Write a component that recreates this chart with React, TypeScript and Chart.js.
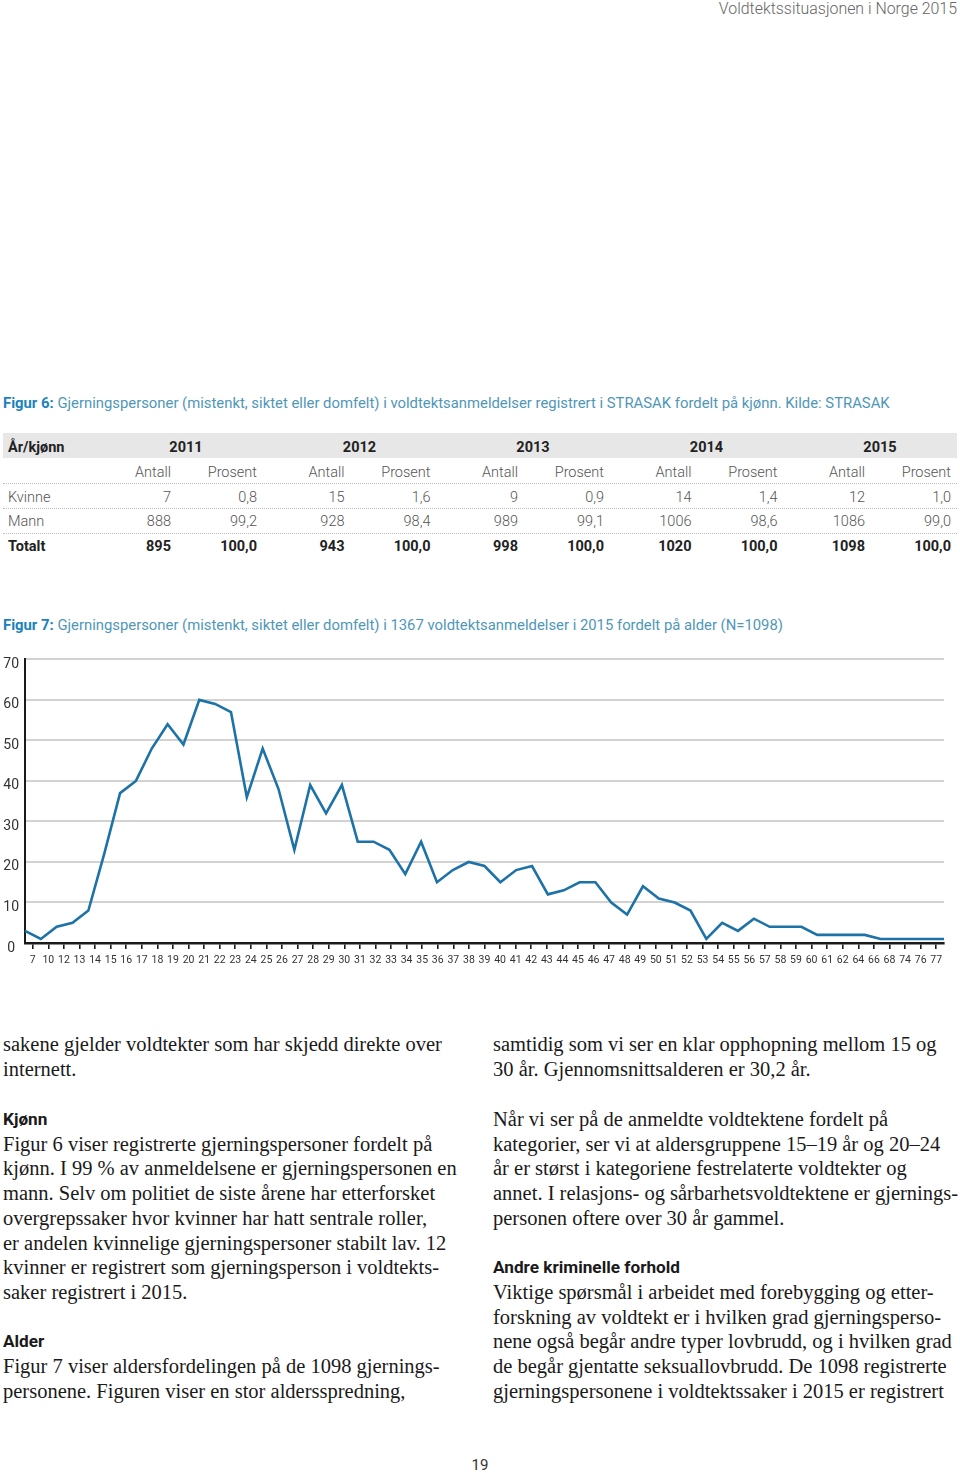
import React, { useEffect, useRef } from "react";
import { Chart, registerables } from "chart.js";

Chart.register(...registerables);

const ageLabels = [
  "7", "10", "12", "13", "14", "15", "16", "17", "18", "19", "20", "21", "22", "23", "24", "25", "26", "27", "28", "29",
  "30", "31", "32", "33", "34", "35", "36", "37", "38", "39", "40", "41", "42", "43", "44", "45", "46", "47", "48", "49",
  "50", "51", "52", "53", "54", "55", "56", "57", "58", "59", "60", "61", "62", "64", "66", "68", "74", "76", "77",
];
const ageCounts = [
  3, 1, 4, 5, 8, 22, 37, 40, 48, 54, 49, 60, 59, 57, 36, 48, 38, 23, 39, 32,
  39, 25, 25, 23, 17, 25, 15, 18, 20, 19, 15, 18, 19, 12, 13, 15, 15, 10, 7, 14,
  11, 10, 8, 1, 5, 3, 6, 4, 4, 4, 2, 2, 2, 2, 1, 1, 1, 1, 1,
];
const yTicks = [0, 10, 20, 30, 40, 50, 60, 70];

const tableYears = ["2011", "2012", "2013", "2014", "2015"];
const kvinneAntall = ["7", "15", "9", "14", "12"];
const kvinneProsent = ["0,8", "1,6", "0,9", "1,4", "1,0"];
const mannAntall = ["888", "928", "989", "1006", "1086"];
const mannProsent = ["99,2", "98,4", "99,1", "98,6", "99,0"];
const totaltAntall = ["895", "943", "998", "1020", "1098"];
const totaltProsent = ["100,0", "100,0", "100,0", "100,0", "100,0"];

const leftLines: [number, string, boolean][] = [
  [1044, "sakene gjelder voldtekter som har skjedd direkte over", false],
  [1069, "internett.", false],
  [1119, "Kjønn", true],
  [1144, "Figur 6 viser registrerte gjerningspersoner fordelt på", false],
  [1168, "kjønn. I 99 % av anmeldelsene er gjerningspersonen en", false],
  [1193, "mann. Selv om politiet de siste årene har etterforsket", false],
  [1218, "overgrepssaker hvor kvinner har hatt sentrale roller,", false],
  [1243, "er andelen kvinnelige gjerningspersoner stabilt lav. 12", false],
  [1267, "kvinner er registrert som gjerningsperson i voldtekts-", false],
  [1292, "saker registrert i 2015.", false],
  [1341, "Alder", true],
  [1366, "Figur 7 viser aldersfordelingen på de 1098 gjernings-", false],
  [1391, "personene. Figuren viser en stor aldersspredning,", false],
];
const rightLines: [number, string, boolean][] = [
  [1044, "samtidig som vi ser en klar opphopning mellom 15 og", false],
  [1069, "30 år. Gjennomsnittsalderen er 30,2 år.", false],
  [1119, "Når vi ser på de anmeldte voldtektene fordelt på", false],
  [1144, "kategorier, ser vi at aldersgruppene 15–19 år og 20–24", false],
  [1168, "år er størst i kategoriene festrelaterte voldtekter og", false],
  [1193, "annet. I relasjons- og sårbarhetsvoldtektene er gjernings-", false],
  [1218, "personen oftere over 30 år gammel.", false],
  [1267, "Andre kriminelle forhold", true],
  [1292, "Viktige spørsmål i arbeidet med forebygging og etter-", false],
  [1317, "forskning av voldtekt er i hvilken grad gjerningsperso-", false],
  [1341, "nene også begår andre typer lovbrudd, og i hvilken grad", false],
  [1366, "de begår gjentatte seksuallovbrudd. De 1098 registrerte", false],
  [1391, "gjerningspersonene i voldtektssaker i 2015 er registrert", false],
];

const SANS = "Roboto, 'Open Sans', sans-serif";
const SERIF = "'Liberation Serif', 'DejaVu Serif', serif";

function AgeChart() {
  const ref = useRef<HTMLCanvasElement | null>(null);
  useEffect(() => {
    if (!ref.current) return;
    const chart = new Chart(ref.current, {
      type: "line",
      data: {
        labels: ageLabels,
        datasets: [
          {
            data: ageCounts,
            borderColor: "#1d72a7",
            borderWidth: 2.6,
            pointRadius: 0,
            tension: 0,
            fill: false,
            xAxisID: "x",
            yAxisID: "y",
          },
        ],
      },
      options: {
        responsive: false,
        animation: false,
        layout: { padding: { top: 12, right: 16, left: 0, bottom: 0 } },
        plugins: { legend: { display: false }, tooltip: { enabled: false } },
        scales: {
          x: {
            type: "category",
            labels: ageLabels,
            display: false,
            offset: false,
          },
          x2: {
            type: "category",
            labels: ageLabels,
            position: "bottom",
            offset: true,
            border: { display: true, color: "#1a1a1a", width: 2.5 },
            grid: {
              drawOnChartArea: false,
              drawTicks: true,
              tickLength: 6,
              color: "#1a1a1a",
              lineWidth: 1.6,
              offset: false,
            },
            ticks: {
              autoSkip: false,
              maxRotation: 0,
              minRotation: 0,
              padding: 5,
              color: "#333",
              font: { family: SANS, size: 10.5 },
            },
            afterFit: (s: any) => {
              s.height = 32;
            },
          },
          y: {
            min: 0,
            max: 70,
            afterBuildTicks: (s: any) => {
              s.ticks = yTicks.map((v) => ({ value: v }));
            },
            border: { display: true, color: "#1a1a1a", width: 2 },
            grid: { color: "#d2d2d2", lineWidth: 2, drawTicks: false },
            ticks: {
              padding: 6,
              crossAlign: "center",
              labelOffset: 5,
              color: "#333",
              font: { family: SANS, size: 14 },
            },
            afterFit: (s: any) => {
              s.width = 25;
            },
          },
        },
      },
    } as any);
    return () => chart.destroy();
  }, []);
  return (
    <canvas
      ref={ref}
      width={960}
      height={330}
      style={{ position: "absolute", left: 0, top: 645, width: 960, height: 330 }}
    />
  );
}

function Abs(props: { left?: number; right?: number; top: number; style?: React.CSSProperties; children: React.ReactNode }) {
  const { left, right, top, style, children } = props;
  return (
    <div
      style={{
        position: "absolute",
        left,
        right,
        top,
        whiteSpace: "nowrap",
        ...style,
      }}
    >
      {children}
    </div>
  );
}

function Table() {
  const colRight = (i: number, which: 0 | 1) => 171 + i * 173.5 + (which === 1 ? 86 : 0);
  const cell = (txt: string, x: number, yc: number, bold: boolean, key: string) => (
    <div
      key={key}
      style={{
        position: "absolute",
        left: x - 80,
        width: 80,
        textAlign: "right",
        top: yc - 8,
        height: 20,
        lineHeight: "20px",
        fontFamily: SANS,
        fontSize: 14.5,
        fontWeight: bold ? 700 : 300,
        color: bold ? "#222" : "#555",
      }}
    >
      {txt}
    </div>
  );
  const rows: [string, string[], string[], number, boolean][] = [
    ["Kvinne", kvinneAntall, kvinneProsent, 496, false],
    ["Mann", mannAntall, mannProsent, 520, false],
    ["Totalt", totaltAntall, totaltProsent, 545, true],
  ];
  const els: React.ReactNode[] = [];
  els.push(
    <div key="hbg" style={{ position: "absolute", left: 3, top: 433, width: 954, height: 25, background: "#e7e7e7" }} />
  );
  els.push(
    <div key="hl" style={{ position: "absolute", left: 8, top: 438, lineHeight: "20px", fontFamily: SANS, fontSize: 14.5, fontWeight: 700, color: "#222" }}>
      År/kjønn
    </div>
  );
  tableYears.forEach((y, i) => {
    els.push(
      <div
        key={"y" + i}
        style={{
          position: "absolute",
          left: 186 + i * 173.5 - 40,
          width: 80,
          textAlign: "center",
          top: 438,
          lineHeight: "20px",
          fontFamily: SANS,
          fontSize: 14.5,
          fontWeight: 700,
          color: "#222",
        }}
      >
        {y}
      </div>
    );
    els.push(cell("Antall", colRight(i, 0), 471, false, "sa" + i));
    els.push(cell("Prosent", colRight(i, 1), 471, false, "sp" + i));
  });
  [483, 508, 533].forEach((yy, i) =>
    els.push(
      <div key={"d" + i} style={{ position: "absolute", left: 3, top: yy, width: 954, height: 0, borderTop: "1px dotted #bdbdbd" }} />
    )
  );
  rows.forEach(([name, a, p, yc, bold], r) => {
    els.push(
      <div
        key={"n" + r}
        style={{
          position: "absolute",
          left: 8,
          top: yc - 8,
          lineHeight: "20px",
          fontFamily: SANS,
          fontSize: 14.5,
          fontWeight: bold ? 700 : 300,
          color: bold ? "#222" : "#555",
        }}
      >
        {name}
      </div>
    );
    a.forEach((v, i) => els.push(cell(v, colRight(i, 0), yc, bold, `a${r}-${i}`)));
    p.forEach((v, i) => els.push(cell(v, colRight(i, 1), yc, bold, `p${r}-${i}`)));
  });
  return <>{els}</>;
}

function TextLines({ lines, left }: { lines: [number, string, boolean][]; left: number }) {
  return (
    <>
      {lines.map(([yc, txt, head], i) => (
        <div
          key={i}
          style={{
            position: "absolute",
            left,
            top: yc - 12,
            height: 24,
            lineHeight: "24px",
            whiteSpace: "nowrap",
            fontFamily: head ? SANS : SERIF,
            fontSize: head ? 17.2 : 20.5,
            fontWeight: head ? 700 : 400,
            color: "#1a1a1a",
          }}
        >
          {txt}
        </div>
      ))}
    </>
  );
}

export default function App() {
  return (
    <div style={{ position: "absolute", left: 0, top: 0, width: 960, height: 1473, background: "#fff", overflow: "hidden" }}>
      <Abs right={3} top={0} style={{ fontFamily: SANS, fontSize: 15.9, fontWeight: 300, color: "#666", lineHeight: "18px" }}>
        Voldtektssituasjonen i Norge 2015
      </Abs>
      <Abs left={3} top={394} style={{ fontFamily: SANS, fontSize: 14.85, color: "#4f97b8", lineHeight: "18px" }}>
        <span style={{ fontWeight: 700, color: "#1b82bd" }}>Figur 6:</span> Gjerningspersoner (mistenkt, siktet eller domfelt) i voldtektsanmeldelser registrert i STRASAK fordelt på kjønn. Kilde: STRASAK
      </Abs>
      <Table />
      <Abs left={3} top={616} style={{ fontFamily: SANS, fontSize: 14.85, color: "#4f97b8", lineHeight: "18px" }}>
        <span style={{ fontWeight: 700, color: "#1b82bd" }}>Figur 7:</span> Gjerningspersoner (mistenkt, siktet eller domfelt) i 1367 voldtektsanmeldelser i 2015 fordelt på alder (N=1098)
      </Abs>
      <AgeChart />
      <TextLines lines={leftLines} left={3} />
      <TextLines lines={rightLines} left={493} />
      <Abs left={0} top={1456} style={{ width: 960, textAlign: "center", fontFamily: SANS, fontSize: 15, color: "#333", lineHeight: "18px" }}>
        19
      </Abs>
    </div>
  );
}
